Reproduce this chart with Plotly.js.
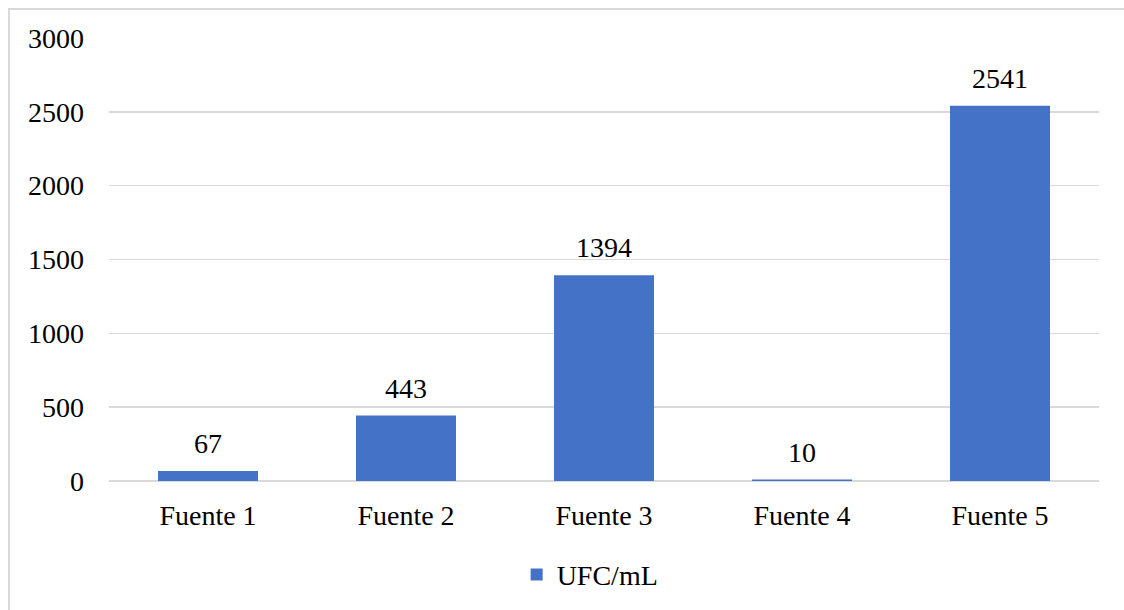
<!DOCTYPE html>
<html>
<head>
<meta charset="utf-8">
<script src="https://cdn.plot.ly/plotly-3.0.1.min.js"></script>
<style>
html,body{margin:0;padding:0;background:#fff;}
#wrap{position:relative;width:1124px;height:610px;}
#chart{position:absolute;left:0;top:0;width:1124px;height:610px;}
#frame{position:absolute;left:8px;top:8px;right:-2px;bottom:-2px;border-left:2px solid #d9d9d9;border-top:2px solid #d9d9d9;pointer-events:none;}
</style>
</head>
<body>
<div id="wrap"><div id="chart"></div><div id="frame"></div></div>
<script>
const categories = ["Fuente 1", "Fuente 2", "Fuente 3", "Fuente 4", "Fuente 5"];
const ufcValues = [67, 443, 1394, 10, 2541];
const seriesName = "UFC/mL";
const yTicks = [0, 500, 1000, 1500, 2000, 2500, 3000];

const fontFam = "Liberation Serif, Times New Roman, serif";
const fsz = 28;

const trace = {
  type: "bar",
  x: categories,
  y: ufcValues,
  name: seriesName,
  marker: {color: "#4472c6", line: {width: 0}},
  hoverinfo: "none"
};

const labelAnnotations = categories.map((c, i) => ({
  x: c,
  y: ufcValues[i],
  xref: "x",
  yref: "y",
  text: String(ufcValues[i]),
  showarrow: false,
  yanchor: "bottom",
  yshift: 10,
  font: {family: fontFam, size: fsz, color: "#000"}
}));

const layout = {
  width: 1124,
  height: 610,
  margin: {l: 109, r: 25, t: 38, b: 128},
  paper_bgcolor: "#fff",
  plot_bgcolor: "#fff",
  bargap: 0.495,
  showlegend: true,
  font: {family: fontFam, size: fsz, color: "#000"},
  annotations: labelAnnotations,
  xaxis: {
    showgrid: false,
    showline: false,
    zeroline: false,
    ticks: "",
    tickfont: {family: fontFam, size: fsz, color: "#000"},
    ticklabelstandoff: 15
  },
  yaxis: {
    range: [0, 3000],
    tickvals: yTicks,
    ticktext: yTicks.map(String),
    showgrid: true,
    gridcolor: "#d9d9d9",
    gridwidth: 1.5,
    zeroline: true,
    zerolinecolor: "#d9d9d9",
    zerolinewidth: 2,
    showline: false,
    ticks: "",
    tickfont: {family: fontFam, size: fsz, color: "#000"},
    ticklabelstandoff: 24
  },
  legend: {
    orientation: "h",
    x: 0.486,
    xanchor: "center",
    y: -0.209,
    yanchor: "middle",
    font: {family: fontFam, size: fsz, color: "#000"}
  }
};

Plotly.newPlot("chart", [trace], layout, {displayModeBar: false, staticPlot: true});
</script>
</body>
</html>
